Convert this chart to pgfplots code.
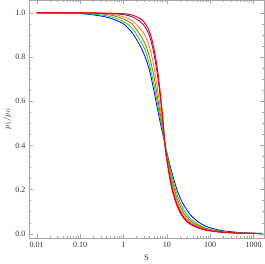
\documentclass[border=0pt]{standalone}
\usepackage{pgfplots}
\usepackage{pgfplotstable}
\pgfplotsset{compat=1.18}
\usepackage{fontspec}
\setmainfont{Liberation Serif}
\definecolor{mbrown}{rgb}{0.6,0.4,0.2}
\definecolor{morange}{rgb}{1,0.5,0}
\definecolor{mpurple}{rgb}{0.5,0,0.5}
\definecolor{mgreen}{rgb}{0,0.9,0}
\pgfplotstableread{
S      blue   green  brown  orange  purple  red
0.01   1.000  1.000  1.000  1.000   1.000   1.000
0.0316 0.999  0.9995 0.9998 1.000   1.000   1.000
0.1    0.997  0.998  0.999  0.9995  1.000   1.000
0.316  0.985  0.990  0.995  0.997   0.998   0.999
0.562  0.972  0.980  0.988  0.993   0.996   0.998
1      0.950  0.960  0.972  0.982   0.992   0.996
1.585  0.910  0.930  0.950  0.965   0.982   0.990
2.512  0.845  0.870  0.895  0.925   0.958   0.972
3.162  0.800  0.830  0.860  0.895   0.935   0.952
3.981  0.740  0.765  0.800  0.845   0.895   0.915
5.012  0.650  0.678  0.715  0.760   0.818   0.842
6.310  0.550  0.572  0.600  0.635   0.695   0.720
7.943  0.455  0.468  0.482  0.500   0.528   0.540
9.120  0.405  0.405  0.402  0.400   0.398   0.396
10     0.368  0.362  0.352  0.345   0.337   0.332
12.59  0.290  0.275  0.257  0.242   0.227   0.217
15.85  0.220  0.200  0.182  0.168   0.153   0.146
19.95  0.165  0.145  0.128  0.115   0.104   0.098
25.12  0.127  0.105  0.092  0.082   0.072   0.068
31.62  0.097  0.078  0.068  0.060   0.053   0.049
39.81  0.074  0.059  0.051  0.045   0.040   0.037
63.10  0.044  0.034  0.030  0.026   0.023   0.021
100    0.027  0.020  0.018  0.016   0.014   0.013
177.8  0.015  0.011  0.010  0.009   0.008   0.007
316.2  0.009  0.006  0.0055 0.005   0.0045  0.004
562.3  0.005  0.0035 0.003  0.003   0.0027  0.0025
1000   0.003  0.002  0.0018 0.0017  0.0016  0.0015
1514   0.002  0.0015 0.0012 0.0011  0.001   0.001
}\curves
\begin{document}
\begin{tikzpicture}
\begin{axis}[
  scale only axis,
  width=233bp, height=236bp,
  xmode=log,
  xmin=0.0066, xmax=1740,
  ymin=-0.021, ymax=1.057,
  xtick={0.01,0.1,1,10,100,1000},
  xticklabels={0.01,0.10,1,10,100,1000},
  ytick={0,0.2,0.4,0.6,0.8,1.0},
  yticklabel style={/pgf/number format/.cd, fixed, fixed zerofill, precision=1},
  /pgf/number format/assume math mode=true,
  minor y tick num=3,
  tick align=inside,
  major tick length=4bp, minor tick length=2bp,
  tick style={gray!70, line width=0.4pt},
  axis line style={gray!70, line width=0.5pt},
  ticklabel style={font=\fontsize{8}{9}\selectfont, text=black!80},
  xlabel={S}, ylabel={$p_1/p_0$},
  label style={font=\fontsize{8.5}{9}\selectfont, text=black!80},
  ylabel style={yshift=-3bp},
  every axis plot/.append style={line width=0.8pt, smooth, no marks},
]
\addplot[blue] table[x=S, y=blue] {\curves};
\addplot[mgreen] table[x=S, y=green] {\curves};
\addplot[mbrown] table[x=S, y=brown] {\curves};
\addplot[morange] table[x=S, y=orange] {\curves};
\addplot[mpurple] table[x=S, y=purple] {\curves};
\addplot[red, line width=1pt] table[x=S, y=red] {\curves};
\end{axis}
\end{tikzpicture}
\end{document}
